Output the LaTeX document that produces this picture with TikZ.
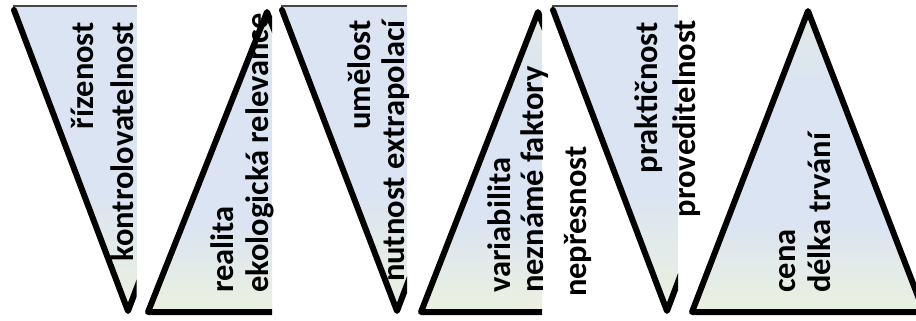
\documentclass[tikz,border=0pt]{standalone}
\usepackage{fontspec}
\setmainfont{Carlito}
\definecolor{tblue}{RGB}{218,228,242}
\definecolor{tgreen}{RGB}{236,241,224}
\definecolor{tpale}{RGB}{226,234,232}
\definecolor{tline}{RGB}{70,70,70}
\pgfdeclareverticalshading{dnshade}{100bp}{color(0bp)=(tgreen); color(25bp)=(tgreen); color(45bp)=(tblue); color(75bp)=(tblue); color(100bp)=(tblue)}
\pgfdeclareverticalshading{upshade}{100bp}{color(0bp)=(tgreen); color(25bp)=(tgreen); color(40bp)=(tblue); color(62bp)=(tblue); color(75bp)=(tpale); color(100bp)=(tpale)}
\tikzset{
  edge/.style={line width=6pt, line join=round, line cap=round, black},
  topline/.style={line width=1.4pt, tline},
  lbl/.style={rotate=90, inner sep=0pt, font=\bfseries\fontsize{32.5}{38}\selectfont},
  dnfill/.style={shading=dnshade},
  upfill/.style={shading=upshade},
}
\begin{document}
\begin{tikzpicture}[x=1pt, y=-1pt]
\useasboundingbox (0,0) rectangle (916,321);
% ---------- triangle 1 (down) ----------
\coordinate (a1) at (13,6);
\coordinate (b1) at (128,311);
\coordinate (c1) at (243,6);
\begin{scope}
\clip (0,0) rectangle (136.5,321);
\shade[dnfill] (a1) -- (b1) -- (c1) -- cycle;
\draw[edge] (14,10) -- (b1) -- (c1);
\end{scope}
\draw[topline] (a1) -- (136.5,6);
% ---------- triangle 2 (up) ----------
\coordinate (a2) at (148,312);
\coordinate (b2) at (267,12);
\coordinate (c2) at (386,312);
\begin{scope}
\clip (140,0) rectangle (272,321);
\shade[upfill] (a2) -- (b2) -- (c2) -- cycle;
\draw[edge] (c2) -- (a2) -- (b2) -- (c2);
\end{scope}
% ---------- triangle 3 (down) ----------
\coordinate (a3) at (281,6);
\coordinate (b3) at (397,311);
\coordinate (c3) at (513,6);
\begin{scope}
\clip (275,0) rectangle (407,321);
\shade[dnfill] (a3) -- (b3) -- (c3) -- cycle;
\draw[edge] (282,10) -- (b3) -- (c3);
\end{scope}
\draw[topline] (a3) -- (407,6);
% ---------- triangle 4 (up) ----------
\coordinate (a4) at (421,312);
\coordinate (b4) at (538,12);
\coordinate (c4) at (655,312);
\begin{scope}
\clip (412,0) rectangle (542,321);
\shade[upfill] (a4) -- (b4) -- (c4) -- cycle;
\draw[edge] (c4) -- (a4) -- (b4) -- (c4);
\end{scope}
% ---------- triangle 5 (down) ----------
\coordinate (a5) at (552,6);
\coordinate (b5) at (667,311);
\coordinate (c5) at (782,6);
\begin{scope}
\clip (546,0) rectangle (678,321);
\shade[dnfill] (a5) -- (b5) -- (c5) -- cycle;
\draw[edge] (553,10) -- (b5) -- (c5);
\end{scope}
\draw[topline] (a5) -- (678,6);
% ---------- triangle 6 (up, full) ----------
\coordinate (a6) at (692,312);
\coordinate (b6) at (808,11);
\coordinate (c6) at (924,312);
\begin{scope}
\clip (680,0) rectangle (916,321);
\shade[upfill] (a6) -- (b6) -- (c6) -- cycle;
\draw[edge] (a6) -- (b6) -- (c6) -- cycle;
\end{scope}
% ---------- labels ----------
\node[lbl, anchor=base east] (t1a) at (93,22) {řízenost};
\node[lbl, anchor=base east] (t1b) at (133,22) {kontrolovatelnost};
\node[lbl, anchor=base west] (t2a) at (233,293) {realita};
\node[lbl, anchor=base west] (t2b) at (268,293) {ekologická relevance};
\node[lbl, anchor=base east] (t3a) at (370,20) {umělost};
\node[lbl, anchor=base east] (t3b) at (404,20) {nutnost extrapolací};
\node[lbl, anchor=base west] (t4a) at (510,293) {variabilita};
\node[lbl, anchor=base west] (t4b) at (543,293) {neznámé faktory};
\node[lbl, anchor=base west] (t5a) at (586,297) {nepřesnost};
\node[lbl, anchor=base east] (t5b) at (657,22) {praktičnost};
\node[lbl, anchor=base east] (t5c) at (695,20) {proveditelnost};
\node[lbl, anchor=base west] (t6a) at (795,293) {cena};
\node[lbl, anchor=base west] (t6b) at (830,293) {délka trvání};
\end{tikzpicture}
\end{document}
